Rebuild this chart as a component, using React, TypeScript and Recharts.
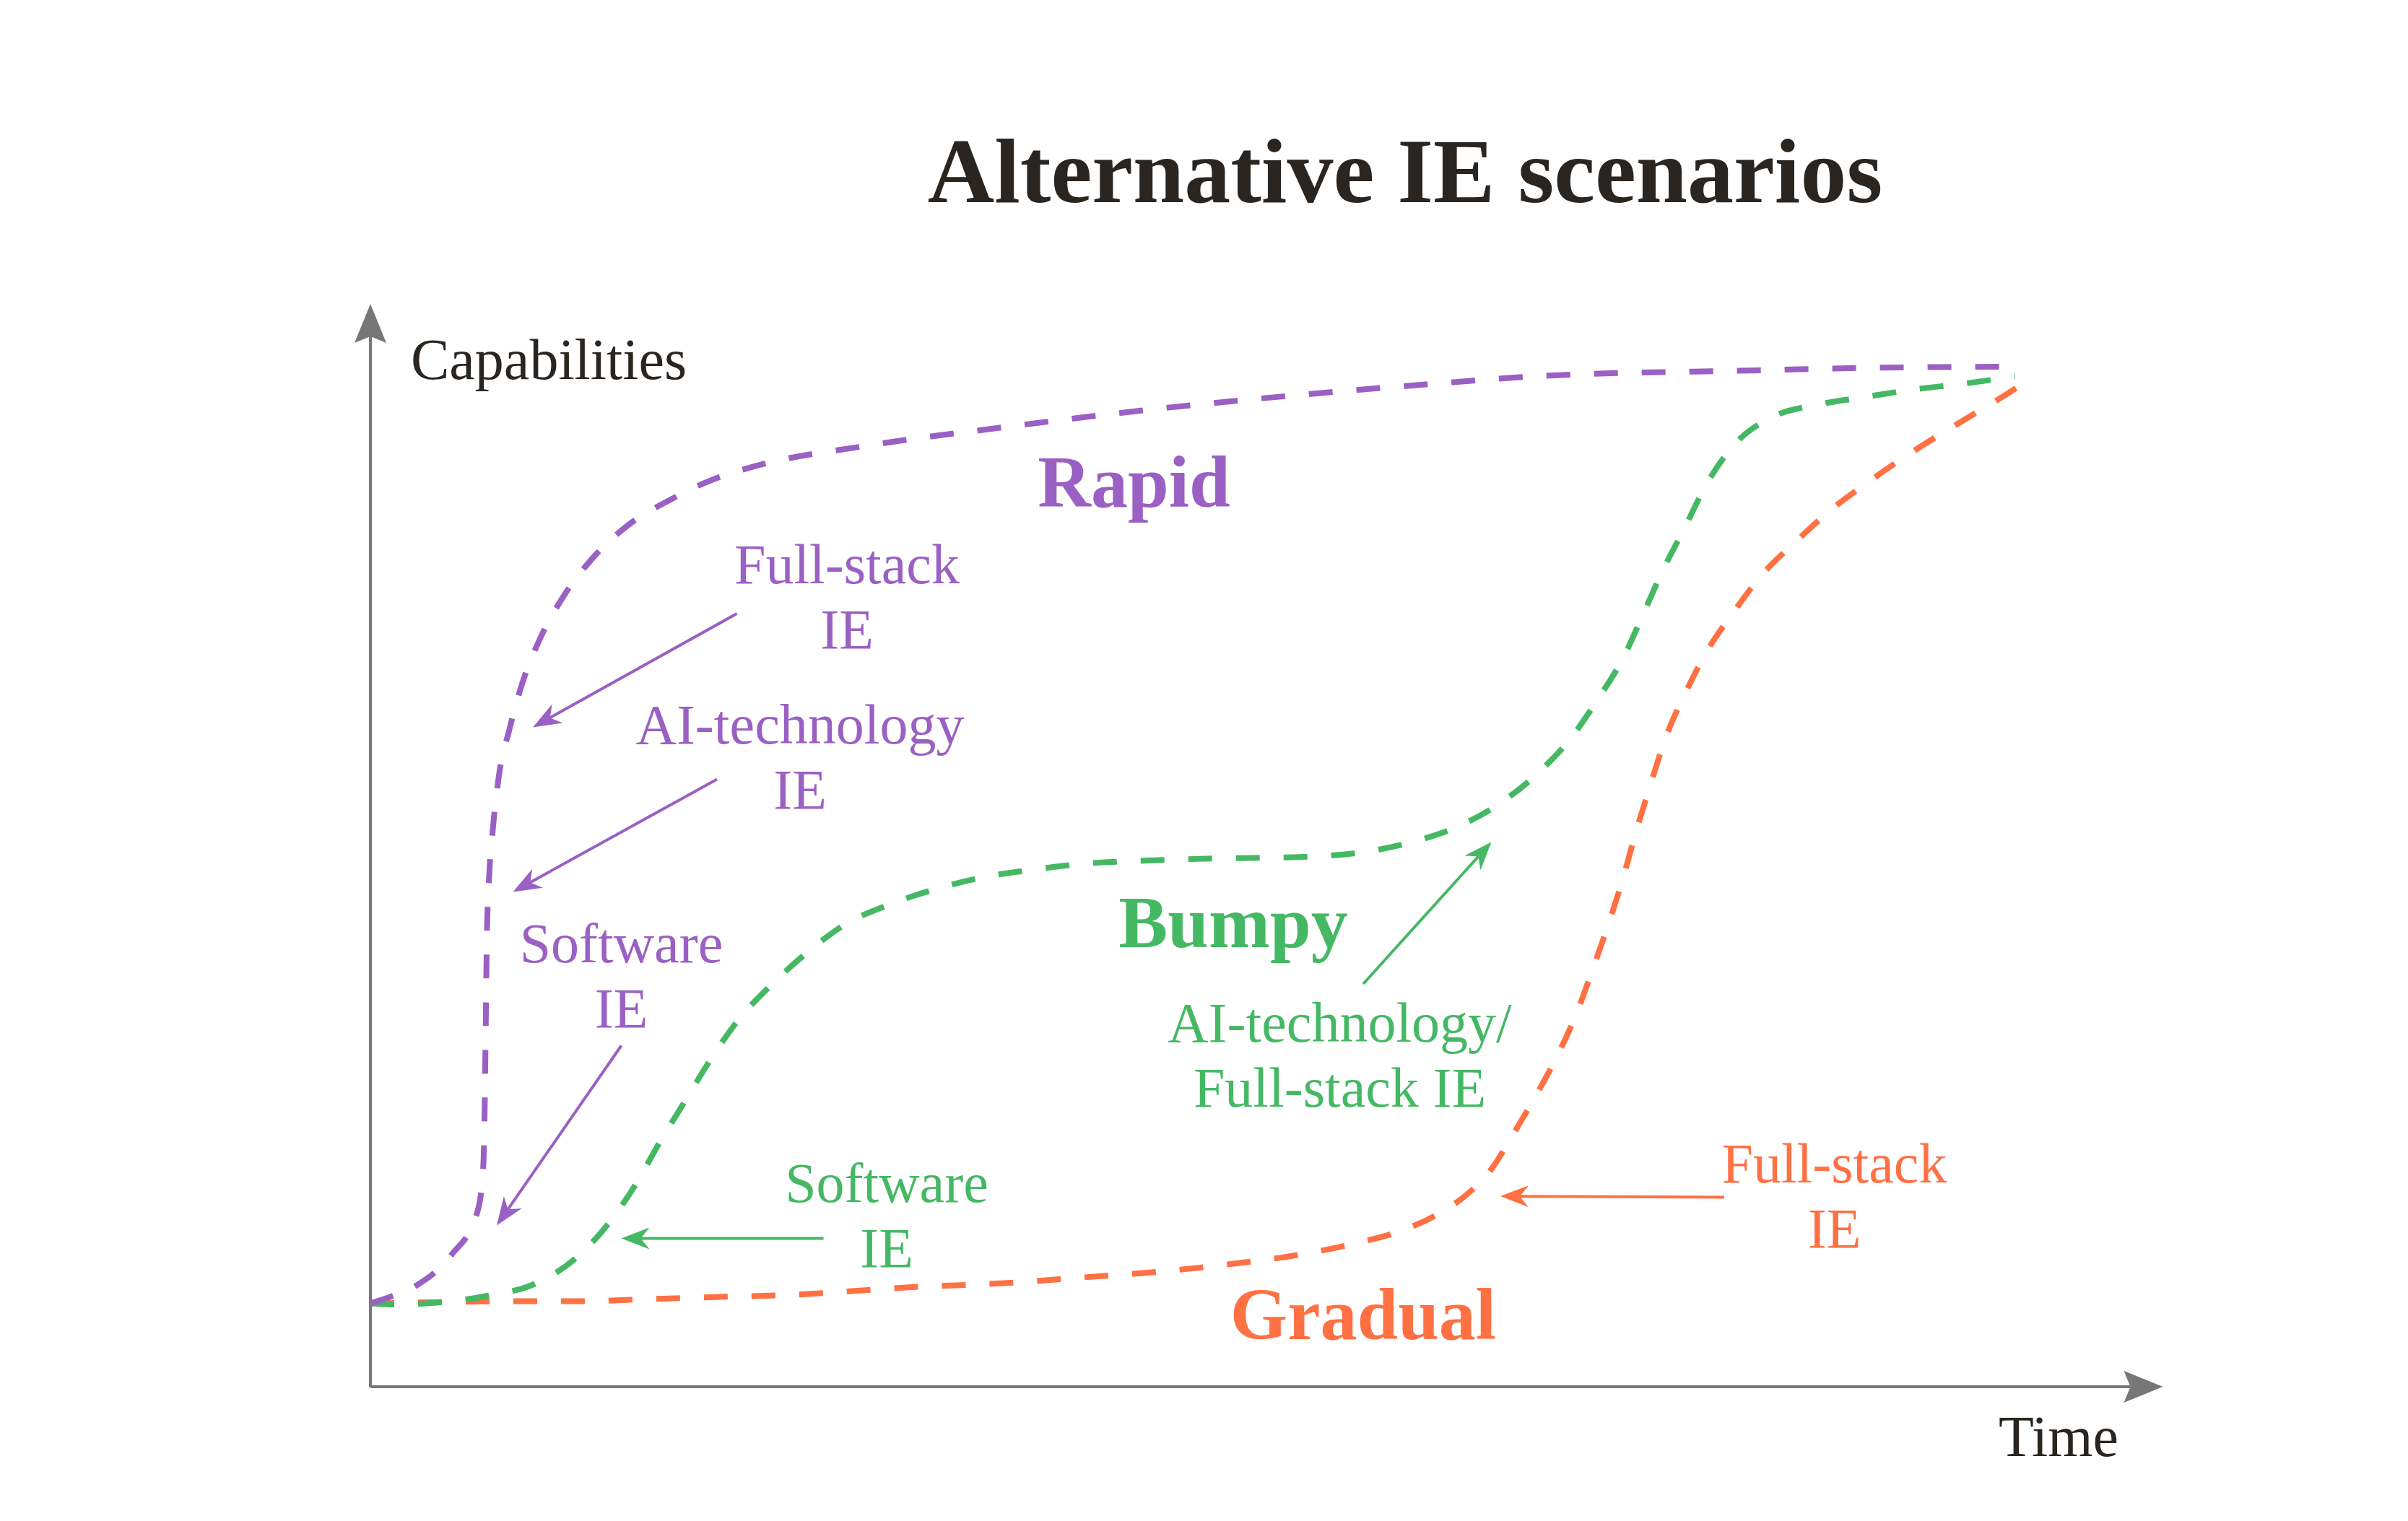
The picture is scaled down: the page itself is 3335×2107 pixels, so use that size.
import { LineChart, Line, XAxis, YAxis, ReferenceLine, ReferenceDot } from 'recharts'

// ============================================
// Data (time on x, capabilities on y, both 0..100)
// ============================================

const rapid: [number, number][] = [
  [0, 7.7], [1.1, 8.3], [2.5, 9.3], [4.5, 12.2], [5.9, 16.0], [6.2, 19.1], [6.3, 22.7],
  [6.35, 28.1], [6.4, 34.7], [6.45, 41.4], [6.55, 46.1], [6.8, 51.8], [7.1, 56.2],
  [7.7, 60.7], [8.4, 64.9], [9.4, 69.1], [10.7, 73.0], [12.3, 76.5], [14.3, 79.6],
  [16.6, 81.9], [19.0, 83.8], [21.5, 85.1], [27.5, 86.9], [35.5, 88.7], [43.5, 90.3],
  [51.5, 91.6], [59.5, 92.7], [64.3, 93.3], [77.7, 93.9], [83.0, 94.1], [91.1, 94.2],
]

const bumpy: [number, number][] = [
  [0, 7.7], [1.3, 7.6], [3.9, 7.8], [6.5, 8.4], [9.1, 9.5], [11.4, 11.9], [13.2, 15.1],
  [14.7, 18.7], [16.0, 22.5], [17.4, 26.3], [18.8, 30.1], [20.3, 33.7], [22.2, 37.1],
  [24.2, 40.1], [26.3, 42.7], [28.7, 44.5], [31.2, 45.9], [33.8, 47.0], [36.5, 47.7],
  [39.5, 48.3], [43.1, 48.6], [47.1, 48.8], [51.1, 48.9], [55.1, 49.4], [57.7, 50.3],
  [60.2, 51.7], [62.6, 53.9], [64.7, 56.7], [66.5, 59.9], [68.0, 63.5], [69.4, 67.3],
  [70.5, 71.3], [71.6, 75.4], [72.8, 79.3], [74.0, 83.3], [75.5, 86.9], [77.6, 89.5],
  [80.2, 90.7], [82.8, 91.4], [85.5, 92.1], [88.1, 92.6], [91.1, 93.3],
]

const gradual: [number, number][] = [
  [0, 7.7], [3.5, 7.8], [7.5, 7.9], [11.5, 7.9], [15.5, 8.1], [19.5, 8.3], [23.5, 8.5],
  [30.0, 9.2], [35.5, 9.6], [39.5, 10.1], [43.5, 10.6], [47.5, 11.3], [51.5, 12.2],
  [54.7, 13.3], [57.1, 14.4], [59.1, 15.9], [60.7, 17.7], [62.1, 20.1], [63.3, 23.3],
  [64.5, 26.7], [65.7, 30.4], [66.8, 34.4], [67.7, 38.5], [68.6, 42.8], [69.4, 47.0],
  [70.1, 51.2], [70.9, 55.5], [71.7, 59.7], [72.8, 63.9], [74.0, 67.8], [75.5, 71.5],
  [77.1, 75.0], [79.0, 78.1], [81.0, 81.1], [83.1, 83.7], [85.3, 86.2], [87.6, 88.6],
  [89.9, 90.9], [92.2, 93.3],
]

// ============================================
// Style
// ============================================

const FONT = '"Liberation Serif", "DejaVu Serif", serif'
const PURPLE = '#9A60C3'
const GREEN = '#45B864'
const ORANGE = '#FF7043'
const INK = '#2A2520'
const AXIS = '#777777'
const LINE_GAP = 90

const W = 3335
const H = 2107

const toPoints = (rows: [number, number][]) => rows.map(([x, y]) => ({ x, y }))

// ============================================
// Shapes
// ============================================

type Head = { len: number; notch: number; half: number }

function arrowShape(color: string, width: number, head: Head) {
  return (p: any) => {
    const { x1, y1, x2, y2 } = p
    const a = Math.atan2(y2 - y1, x2 - x1)
    const ux = Math.cos(a)
    const uy = Math.sin(a)
    const bx = x2 - ux * head.len
    const by = y2 - uy * head.len
    const nx = x2 - ux * head.notch
    const ny = y2 - uy * head.notch
    const d = `M${x2},${y2} L${bx - uy * head.half},${by + ux * head.half} L${nx},${ny} L${bx + uy * head.half},${by - ux * head.half} Z`
    return (
      <g>
        <line x1={x1} y1={y1} x2={nx} y2={ny} stroke={color} strokeWidth={width} />
        <path d={d} fill={color} />
      </g>
    )
  }
}

function noteShape(lines: string[], color: string, size: number, bold = false, anchor: 'start' | 'middle' = 'middle') {
  return (p: any) => (
    <text
      x={p.cx}
      y={p.cy}
      fill={color}
      fontSize={size}
      fontWeight={bold ? 700 : 400}
      fontFamily={FONT}
      textAnchor={anchor}
    >
      {lines.map((t, i) => (
        <tspan key={i} x={p.cx} dy={i === 0 ? 0 : LINE_GAP}>
          {t}
        </tspan>
      ))}
    </text>
  )
}

const axisHead: Head = { len: 54, notch: 45, half: 22 }
const noteHead: Head = { len: 39, notch: 27, half: 15 }

// annotation arrows: [from, to] in chart units
const arrows: { from: [number, number]; to: [number, number]; color: string }[] = [
  { from: [20.3, 71.4], to: [9.0, 60.9], color: PURPLE },
  { from: [19.2, 56.1], to: [7.9, 45.7], color: PURPLE },
  { from: [13.9, 31.5], to: [7.0, 14.9], color: PURPLE },
  { from: [25.1, 13.7], to: [13.9, 13.7], color: GREEN },
  { from: [55.0, 37.2], to: [62.1, 50.3], color: GREEN },
  { from: [75.0, 17.5], to: [62.6, 17.6], color: ORANGE },
]

const notes: { at: [number, number]; lines: string[]; color: string; size: number; bold?: boolean; anchor?: 'start' | 'middle' }[] = [
  { at: [2.24, 93.07], lines: ['Capabilities'], color: INK, size: 80, anchor: 'start' },
  { at: [90.2, -6.4], lines: ['Time'], color: INK, size: 80, anchor: 'start' },
  { at: [42.3, 81.3], lines: ['Rapid'], color: PURPLE, size: 102, bold: true },
  { at: [26.4, 74.2], lines: ['Full-stack', 'IE'], color: PURPLE, size: 78 },
  { at: [23.8, 59.4], lines: ['AI-technology', 'IE'], color: PURPLE, size: 78 },
  { at: [13.9, 39.2], lines: ['Software', 'IE'], color: PURPLE, size: 78 },
  { at: [47.8, 40.6], lines: ['Bumpy'], color: GREEN, size: 102, bold: true },
  { at: [53.7, 31.9], lines: ['AI-technology/', 'Full-stack IE'], color: GREEN, size: 78 },
  { at: [28.6, 17.1], lines: ['Software', 'IE'], color: GREEN, size: 78 },
  { at: [55.0, 4.4], lines: ['Gradual'], color: ORANGE, size: 102, bold: true },
  { at: [81.1, 18.9], lines: ['Full-stack', 'IE'], color: ORANGE, size: 78 },
]

// ============================================
// Main Component
// ============================================

export default function App() {
  return (
    <div style={{ position: 'absolute', left: 0, top: 0, width: W, height: H, background: '#fff', overflow: 'hidden' }}>
      <div
        style={{
          position: 'absolute',
          left: 1946,
          top: 173,
          transform: 'translateX(-50%)',
          whiteSpace: 'nowrap',
          fontFamily: FONT,
          fontWeight: 700,
          fontSize: 128,
          lineHeight: 1,
          color: INK,
        }}
      >
        Alternative IE scenarios
      </div>
      <LineChart width={W} height={H} margin={{ top: 421, right: 322, bottom: 186, left: 513 }}>
        <XAxis type="number" dataKey="x" domain={[0, 100]} hide allowDataOverflow />
        <YAxis type="number" dataKey="y" domain={[0, 100]} hide allowDataOverflow />

        {/* axes with arrowheads */}
        <ReferenceLine
          segment={[{ x: 0, y: 0 }, { x: 0, y: 100 }]}
          ifOverflow="visible"
          shape={arrowShape(AXIS, 4, axisHead)}
        />
        <ReferenceLine
          segment={[{ x: 0, y: 0 }, { x: 99.3, y: 0 }]}
          ifOverflow="visible"
          shape={arrowShape(AXIS, 4, axisHead)}
        />

        <Line data={toPoints(gradual)} dataKey="y" type="monotone" stroke={ORANGE} strokeWidth={8}
          strokeDasharray="33 33" dot={false} activeDot={false} isAnimationActive={false} />
        <Line data={toPoints(bumpy)} dataKey="y" type="monotone" stroke={GREEN} strokeWidth={8}
          strokeDasharray="33 33" dot={false} activeDot={false} isAnimationActive={false} />
        <Line data={toPoints(rapid)} dataKey="y" type="monotone" stroke={PURPLE} strokeWidth={8}
          strokeDasharray="33 33" dot={false} activeDot={false} isAnimationActive={false} />

        {arrows.map((a, i) => (
          <ReferenceLine
            key={`arrow-${i}`}
            segment={[{ x: a.from[0], y: a.from[1] }, { x: a.to[0], y: a.to[1] }]}
            ifOverflow="visible"
            shape={arrowShape(a.color, 4, noteHead)}
          />
        ))}

        {notes.map((n, i) => (
          <ReferenceDot
            key={`note-${i}`}
            x={n.at[0]}
            y={n.at[1]}
            r={0}
            ifOverflow="visible"
            shape={noteShape(n.lines, n.color, n.size, n.bold, n.anchor)}
          />
        ))}
      </LineChart>
    </div>
  )
}
